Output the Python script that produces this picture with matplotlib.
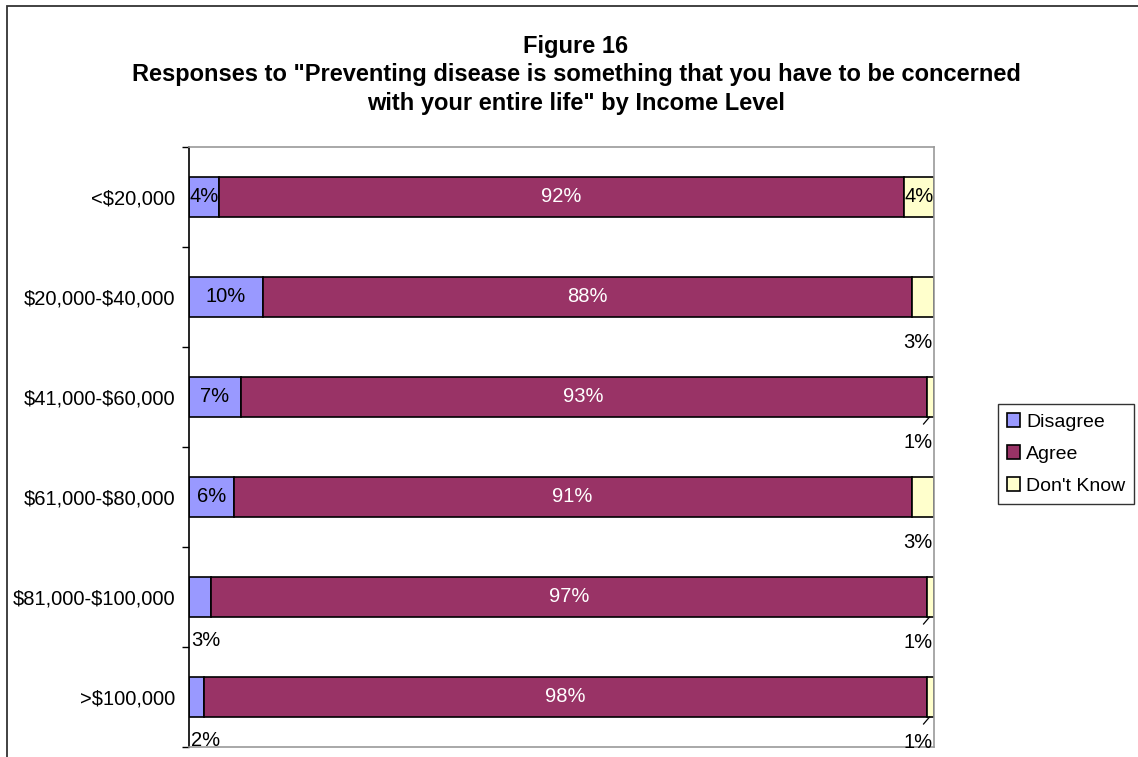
import matplotlib
matplotlib.use("Agg")
import matplotlib.pyplot as plt
import numpy as np
from matplotlib.patches import Rectangle

plt.rcParams["font.family"] = ["Liberation Sans", "DejaVu Sans"]
plt.rcParams["text.parse_math"] = False

# Survey responses by income bracket (percent)
income_levels = ["<$20,000", "$20,000-$40,000", "$41,000-$60,000",
                 "$61,000-$80,000", "$81,000-$100,000", ">$100,000"]
disagree = [4, 10, 7, 6, 3, 2]
agree = [92, 88, 93, 91, 97, 98]
dont_know = [4, 3, 1, 3, 1, 1]

series_names = ["Disagree", "Agree", "Don't Know"]
series_colors = ["#9999FF", "#993366", "#FFFFCC"]

# Label placement per bar: True means inside the segment, False below the bar
disagree_inside = [True, True, True, True, False, False]
dk_inside = [True, False, False, False, False, False]
dk_leader = [False, False, True, False, True, True]

FS = 14.5

fig = plt.figure(figsize=(11.38, 7.57), dpi=100)

# chart frame (clipped at the right and bottom edges)
fig.patches.append(Rectangle((7 / 1138, -0.05), 1.2, 1 - 6 / 757 + 0.05,
                             transform=fig.transFigure, fill=False,
                             edgecolor="#333333", linewidth=1.3))

ax = fig.add_axes([189 / 1138, 1 - 747 / 757, 745 / 1138, 600 / 757])

values = np.array([disagree, agree, dont_know], dtype=float)
totals = values.sum(axis=0)
shares = values / totals
y = np.arange(len(income_levels)) + 0.5
bar_h = 0.4

left = np.zeros(len(income_levels))
for name, color, row in zip(series_names, series_colors, shares):
    ax.barh(y, row, left=left, height=bar_h, color=color,
            edgecolor="black", linewidth=1.2, label=name)
    left += row

for i in range(len(income_levels)):
    d, a, k = shares[:, i]
    # Disagree
    if disagree_inside[i]:
        ax.text(d / 2, y[i], f"{disagree[i]}%", ha="center", va="center",
                fontsize=FS, color="black")
    else:
        ax.text(0.003, y[i] + 0.43, f"{disagree[i]}%", ha="left",
                va="center", fontsize=FS, color="black")
    # Agree
    ax.text(d + a / 2, y[i], f"{agree[i]}%", ha="center", va="center",
            fontsize=FS, color="white")
    # Don't Know
    if dk_inside[i]:
        ax.text(d + a + k / 2, y[i], f"{dont_know[i]}%", ha="center",
                va="center", fontsize=FS, color="black")
    else:
        ax.text(0.998, y[i] + 0.45, f"{dont_know[i]}%", ha="right",
                va="center", fontsize=FS, color="black")
        if dk_leader[i]:
            ax.plot([0.994, 0.986], [y[i] + bar_h / 2, y[i] + bar_h / 2 + 0.07],
                    color="black", linewidth=0.9)

ax.set_xlim(0, 1)
ax.set_ylim(len(income_levels), 0)
ax.set_xticks([])
ax.set_yticks(y)
ax.set_yticklabels(income_levels, fontsize=FS)
ax.tick_params(axis="y", which="major", length=0, pad=10)
ax.set_yticks(np.arange(len(income_levels) + 1), minor=True)
ax.tick_params(axis="y", which="minor", length=5, width=1, color="black")

for side in ["top", "right", "bottom"]:
    ax.spines[side].set_color("#999999")
    ax.spines[side].set_linewidth(1.2)
ax.spines["left"].set_color("black")
ax.spines["left"].set_linewidth(1.2)

fig.text(576 / 1138, 1 - 75 / 757,
         "Figure 16\n"
         "Responses to \"Preventing disease is something that you have to be concerned\n"
         "with your entire life\" by Income Level",
         ha="center", va="center", fontsize=17, fontweight="bold",
         linespacing=1.3)

leg = fig.legend(loc="center left", bbox_to_anchor=(998 / 1138, 1 - 454 / 757),
                 fontsize=14, frameon=True, fancybox=False, handlelength=0.7,
                 handleheight=0.7, handletextpad=0.3, labelspacing=0.75,
                 borderpad=0.45, borderaxespad=0)
leg.get_frame().set_edgecolor("black")
leg.get_frame().set_linewidth(1.0)

fig.savefig("out.png", dpi=100)
